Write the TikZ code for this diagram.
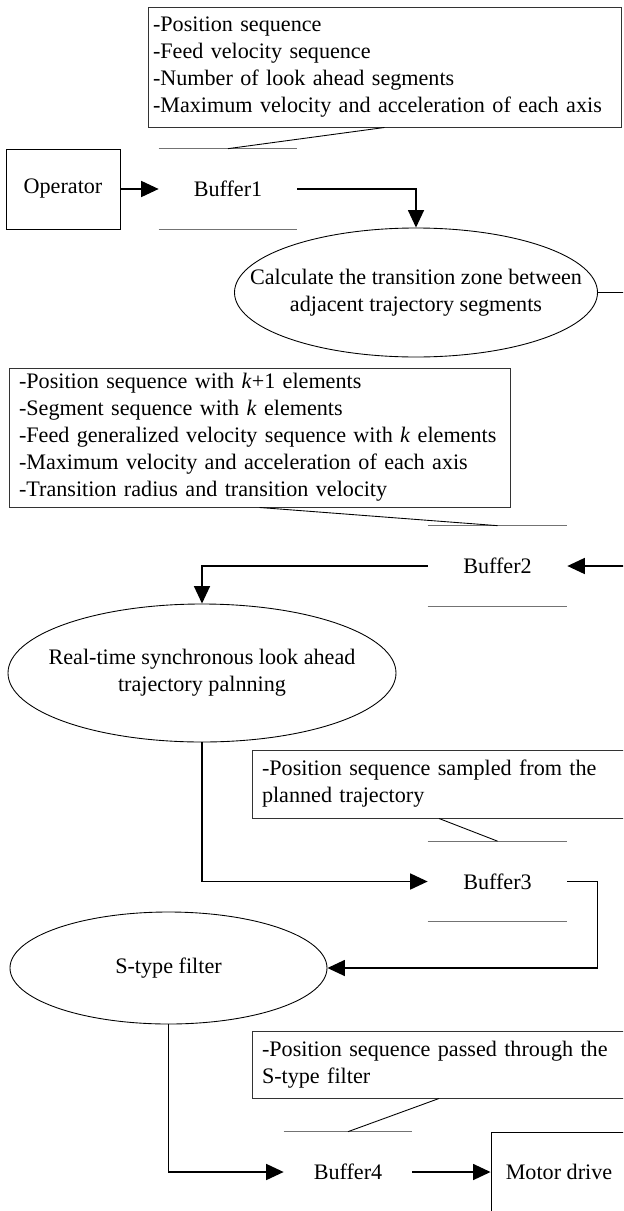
\documentclass[tikz,border=0pt]{standalone}
\usepackage{fontspec}
\setmainfont{Liberation Serif}
\usepackage{tikz}
\usetikzlibrary{arrows.meta,shapes.geometric,positioning}
\tikzset{
  proc/.style={ellipse,draw,line width=0.5pt,inner sep=0pt},
  store/.style={minimum width=2.78cm,minimum height=1.6cm,inner sep=0pt},
  info/.style={draw=black!80,line width=0.55pt,align=left,inner xsep=0.2cm,inner ysep=0pt},
  term/.style={draw,line width=0.5pt,minimum height=1.6cm,inner sep=0pt},
  flow/.style={-{Triangle[length=3.5mm,width=3.2mm]},line width=0.9pt},
  note/.style={line width=0.5pt},
  every node/.style={font=\fontsize{12.6}{15.4}\selectfont}
}
\begin{document}
\begin{tikzpicture}
\useasboundingbox (0,0) rectangle (12.46,-24.22);
\clip (0,0) rectangle (12.46,-24.22);
% input side
\node[term,minimum width=2.28cm] (O) at (1.26,-3.78) {Operator};
\node[store,minimum width=2.76cm] (B1) at (4.56,-3.78) {Buffer1};
\node[info,text width=9.26cm,inner xsep=0.1cm,minimum height=2.4cm] (N1) at (7.69,-1.34)
  {-Position sequence\\-Feed velocity sequence\\-Number of look ahead segments\\-Maximum velocity and acceleration of each axis};
\node[proc,minimum width=7.26cm,minimum height=2.58cm,
  label={[align=center]center:{Calculate the transition zone between\\adjacent trajectory segments}}] (C) at (8.32,-5.85) {};
% look ahead
\node[info,text width=9.62cm,minimum height=2.78cm] (N2) at (5.19,-8.75)
  {-Position sequence with \textit{k}+1 elements\\-Segment sequence with \textit{k} elements\\\mbox{-Feed generalized velocity sequence with \textit{k} elements}\\-Maximum velocity and acceleration of each axis\\-Transition radius and transition velocity};
\node[store] (B2) at (9.95,-11.32) {Buffer2};
\node[proc,minimum width=7.76cm,minimum height=2.76cm,
  label={[align=center]center:{Real-time synchronous look ahead\\trajectory palnning}}] (R) at (4.04,-13.46) {};
% sampling and filter
\node[info,text width=7.08cm,minimum height=1.36cm] (N3) at (8.78,-15.68)
  {-Position sequence sampled from the\\planned trajectory};
\node[store] (B3) at (9.95,-17.63) {Buffer3};
\node[proc,minimum width=6.34cm,minimum height=2.24cm,
  label={center:S-type filter}] (S) at (3.37,-19.36) {};
\node[info,text width=7.08cm,minimum height=1.34cm] (N4) at (8.78,-21.29)
  {-Position sequence passed through the\\S-type filter};
\node[store,minimum width=2.56cm] (B4) at (6.96,-23.44) {Buffer4};
\node[term,minimum width=2.72cm] (M) at (11.18,-23.44) {Motor drive};
% buffers are open stores
\foreach \b in {B1,B2,B3,B4}
  \draw[black!55,line width=0.6pt] (\b.north west) -- (\b.north east) (\b.south west) -- (\b.south east);
% callouts
\draw[note] (N1.south) -- (B1.north);
\draw[note] (N2.south) -- (B2.north);
\draw[note] (N3.south) -- (B3.north);
\draw[note] (N4.south) -- (B4.north);
% data flow
\draw[flow] (O.east) -- (B1.west);
\draw[flow] (B1.east) -| (C.north);
\draw[flow] (C.east) -- ++(1,0) |- (B2.east);
\draw[flow] (B2.west) -| (R.north);
\draw[flow] (R.south) |- (B3.west);
\draw[flow] (B3.east) -- ++(0.6,0) |- (S.east);
\draw[flow] (S.south) |- (B4.west);
\draw[flow] (B4.east) -- (M.west);
\end{tikzpicture}
\end{document}
